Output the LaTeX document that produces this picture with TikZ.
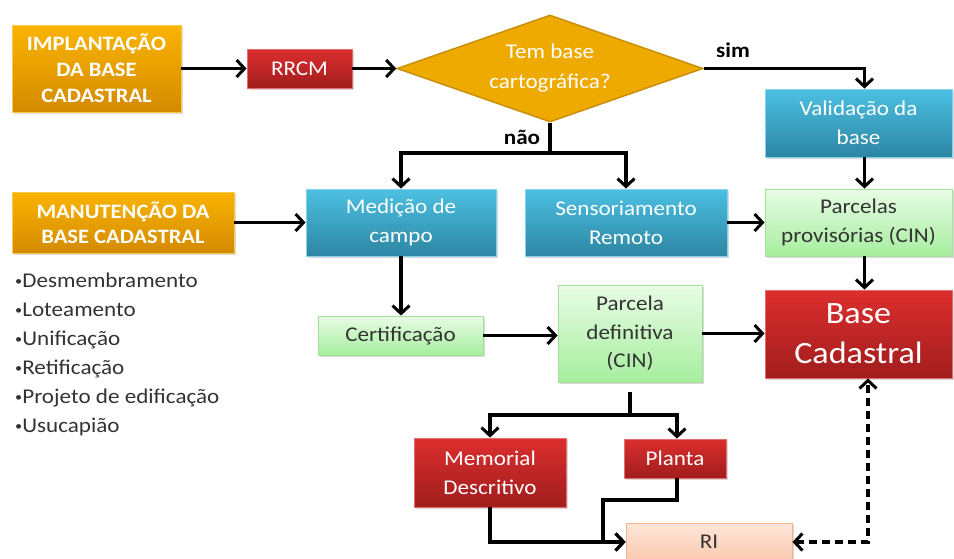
\documentclass[tikz,border=0pt]{standalone}
\usepackage{fontspec}
\setmainfont{Carlito}[FakeStretch=1.1]
\usetikzlibrary{arrows.meta,shapes.geometric,shadows}

\definecolor{orT}{HTML}{F9B400}
\definecolor{orB}{HTML}{D48A00}
\definecolor{rdT}{HTML}{DC2E2E}
\definecolor{rdB}{HTML}{A11D1D}
\definecolor{blT}{HTML}{4CC0E2}
\definecolor{blB}{HTML}{2D86A3}
\definecolor{grT}{HTML}{E8FCE5}
\definecolor{grB}{HTML}{A6EE9E}
\definecolor{grD}{HTML}{A4E09C}
\definecolor{piT}{HTML}{FEE6D8}
\definecolor{piB}{HTML}{FBC9AF}
\definecolor{piD}{HTML}{F4B48E}
\definecolor{diaF}{HTML}{EFAA00}
\definecolor{diaD}{HTML}{C98F08}
\definecolor{txt}{HTML}{333333}
\newcommand{\smbul}{{\fontsize{13}{13}\selectfont\raisebox{1.5pt}{•}}}

\begin{document}
\begin{tikzpicture}[x=1pt,y=-1pt,
  sz/.style 2 args={minimum width=#1pt, minimum height=#2pt},
  box/.style={rectangle, inner sep=0pt, line width=0.8pt,
    drop shadow={shadow xshift=1.5pt,shadow yshift=-1.5pt,opacity=0.3},
    align=center, font=\fontsize{21}{29}\selectfont},
  orbox/.style={box, top color=orT, bottom color=orB, draw=orT!70!white, text=white,
    font=\bfseries\fontsize{20.5}{26}\selectfont},
  rdbox/.style={box, top color=rdT, bottom color=rdB, draw=rdT!70!white, text=white},
  blbox/.style={box, top color=blT, bottom color=blB, draw=blT!70!white, text=white},
  grbox/.style={box, top color=grT, bottom color=grB, draw=grD, text=txt},
  pibox/.style={box, top color=piT, bottom color=piB, draw=piD, text=txt},
  tip/.tip={Straight Barb[length=8pt,width=17pt,line width=3pt]},
  arr/.style={line width=3.3pt, -tip},
  darr/.style={line width=3.3pt, dash pattern=on 8pt off 5pt, tip-tip},
  lne/.style={line width=3.3pt},
  lbl/.style={font=\bfseries\fontsize{21}{24}\selectfont, text=black, inner sep=0pt},
  item/.style={font=\fontsize{21}{24}\selectfont, text=txt, inner sep=0pt, anchor=base west}
  ]
\useasboundingbox (0,0) rectangle (954,558);

% nodes
\node[orbox, sz={169}{87}] (impl) at (96.5,68.5) {IMPLANTAÇÃO\\DA BASE\\CADASTRAL};
\node[rdbox, sz={105}{39}] (rrcm) at (299.5,68.5) {RRCM};
\node[diamond, aspect=2.86, inner sep=0pt, sz={306}{107}, fill=diaF, draw=diaD, line width=1.5pt,
  text=white, align=center, font=\fontsize{21}{30}\selectfont] (dia) at (550,68.5) {Tem base\\cartográfica?};
\node[blbox, sz={187}{68}] (valid) at (858.5,123) {Validação da\\base};
\node[grbox, sz={187}{67}] (pprov) at (858.5,222.5) {Parcelas\\provisórias (CIN)};
\node[orbox, sz={222}{61}, font=\bfseries\fontsize{20.5}{25}\selectfont] (manut) at (123,222.5) {MANUTENÇÃO DA\\BASE CADASTRAL};
\node[blbox, sz={190}{67}] (med) at (401,222.5) {Medição de\\campo};
\node[blbox, sz={202}{67}] (sens) at (626,222.5) {Sensoriamento\\Remoto};
\node[grbox, sz={165}{39}] (cert) at (400.5,335.5) {Certificação};
\node[grbox, sz={144}{97}, font=\fontsize{21}{28.5}\selectfont] (pdef) at (630,333.5) {Parcela\\definitiva\\(CIN)};
\node[rdbox, sz={187}{88}, font=\fontsize{31}{40}\selectfont] (bcad) at (858.5,334) {Base\\Cadastral};
\node[rdbox, sz={152}{69}] (memo) at (490,472.5) {Memorial\\Descritivo};
\node[rdbox, sz={102}{39}] (planta) at (675,458.5) {Planta};
\node[pibox, sz={166}{38}] (ri) at (709,542) {RI};

% bullet list
\node[item] (b1) at (15,287) {\smbul Desmembramento};
\node[item] (b2) at (15,316) {\smbul Loteamento};
\node[item] (b3) at (15,345) {\smbul Unificação};
\node[item] (b4) at (15,374) {\smbul Retificação};
\node[item] (b5) at (15,403) {\smbul Projeto de edificação};
\node[item] (b6) at (15,432) {\smbul Usucapião};

% labels
\node[lbl] (sim) at (733,50) {sim};
\node[lbl] (nao) at (522,137) {não};

% junction coordinates
\coordinate (nj) at (550,153);
\coordinate (pj) at (630,415);
\coordinate (pc) at (603,500);

% connectors
\draw[arr] (impl.east) -- (rrcm.west);
\draw[arr] (rrcm.east) -- (dia.west);
\draw[arr] (dia.east) -| ([xshift=6pt]valid.north);
\draw[lne] (dia.south) -- (nj);
\draw[arr] (nj) -| (med.north);
\draw[arr] (nj) -| (sens.north);
\draw[arr] ([xshift=6pt]valid.south) -- ([xshift=6pt]pprov.north);
\draw[arr] (sens.east) -- (pprov.west);
\draw[arr] (manut.east) -- (med.west);
\draw[arr] (med.south) -- (med.south |- cert.north);
\draw[arr] (cert.east) -- (cert.east -| pdef.west);
\draw[arr] (pdef.east) -- (pdef.east -| bcad.west);
\draw[arr] ([xshift=6pt]pprov.south) -- ([xshift=6pt]bcad.north);
\draw[lne] ([yshift=-10pt]pdef.south) -- (pj);
\draw[arr] (pj) -| (memo.north);
\draw[arr] (pj) -| ([xshift=2pt]planta.north);
\draw[arr] (memo.south) |- (ri.west);
\draw[arr] ([xshift=2pt]planta.south) |- (pc) |- (ri.west);
\draw[darr] (ri.east) -| ([xshift=9.5pt]bcad.south);
\end{tikzpicture}
\end{document}
